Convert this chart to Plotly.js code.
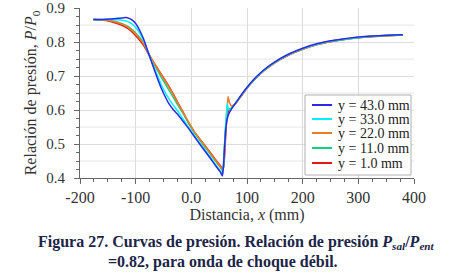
<!DOCTYPE html>
<html>
<head>
<meta charset="utf-8">
<script src="https://cdn.plot.ly/plotly-3.0.1.min.js"></script>
<style>html,body{margin:0;padding:0;background:#fff;}#chart{width:453px;height:274px;}</style>
</head>
<body>
<div id="chart"></div>
<script>
const seriesNames = ["y = 43.0 mm", "y = 33.0 mm", "y = 22.0 mm", "y = 11.0 mm", "y = 1.0 mm"];
const seriesColors = ["#2a2ae6", "#00f0ff", "#f07a1e", "#10d080", "#e01818"];

const xBlue = [-176,-160,-145,-132,-122,-115,-108,-100,-92,-85,-78,-70,-62,-55,-48,-40,-32,-24,-15,-5,5,15,25,35,45,52,55.5,57.5,60,62,64,67,72,80,90,100,115,130,150,175,200,225,250,275,300,325,350,380];
const yBlue = [0.867,0.867,0.868,0.870,0.872,0.872,0.867,0.855,0.832,0.806,0.772,0.735,0.698,0.668,0.643,0.618,0.600,0.586,0.567,0.546,0.523,0.500,0.478,0.456,0.433,0.418,0.406,0.430,0.500,0.545,0.570,0.588,0.603,0.622,0.645,0.667,0.695,0.718,0.742,0.765,0.782,0.795,0.804,0.810,0.815,0.818,0.820,0.822];

const xCyan = [-176,-160,-145,-132,-122,-115,-108,-100,-92,-85,-78,-70,-62,-55,-48,-40,-32,-24,-15,-5,5,15,25,35,45,52,56,58,60.5,62.5,64.5,66.5,69,72,80,90,100,115,130,150,175,200,225,250,275,300,325,350,380];
const yCyan = [0.867,0.867,0.867,0.866,0.864,0.861,0.855,0.843,0.824,0.802,0.772,0.738,0.705,0.678,0.655,0.632,0.613,0.596,0.574,0.550,0.526,0.503,0.481,0.459,0.436,0.421,0.409,0.440,0.520,0.575,0.620,0.603,0.600,0.604,0.622,0.644,0.666,0.694,0.717,0.741,0.764,0.781,0.794,0.803,0.809,0.814,0.817,0.820,0.822];

const xOrange = [-176,-160,-145,-132,-122,-115,-108,-100,-92,-85,-78,-70,-62,-55,-48,-40,-32,-24,-15,-5,5,15,25,35,45,52,57,59.5,62,64,66,68.5,72,76,80,90,100,115,130,150,175,200,225,250,275,300,325,350,380];
const yOrange = [0.867,0.866,0.863,0.857,0.851,0.845,0.836,0.824,0.809,0.793,0.771,0.747,0.725,0.706,0.688,0.667,0.644,0.620,0.594,0.565,0.538,0.515,0.493,0.471,0.449,0.434,0.423,0.470,0.550,0.600,0.640,0.622,0.612,0.615,0.621,0.643,0.665,0.693,0.716,0.740,0.763,0.780,0.793,0.802,0.809,0.814,0.817,0.819,0.821];

const xGreen = [-176,-160,-145,-132,-122,-115,-108,-100,-92,-85,-78,-70,-62,-55,-48,-40,-32,-24,-15,-5,5,15,25,35,45,52,56.5,58.5,61,63,65,68,72,80,90,100,115,130,150,175,200,225,250,275,300,325,350,380];
const yGreen = [0.867,0.866,0.864,0.859,0.853,0.847,0.839,0.827,0.812,0.795,0.772,0.745,0.720,0.700,0.680,0.658,0.636,0.614,0.590,0.562,0.535,0.512,0.490,0.468,0.446,0.432,0.420,0.460,0.540,0.580,0.600,0.603,0.606,0.621,0.643,0.665,0.693,0.716,0.740,0.763,0.780,0.793,0.802,0.808,0.813,0.817,0.819,0.821];

const xRed = [-176,-160,-145,-132,-122,-115,-108,-100,-92,-85,-78,-70,-62,-55,-48,-40,-32,-24,-15,-5,5,15,25,35,45,52,57.5,60,62.5,64.5,67,72,80,90,100,115,130,150,175,200,225,250,275,300,325,350,380];
const yRed = [0.867,0.865,0.861,0.854,0.847,0.841,0.832,0.819,0.804,0.788,0.768,0.746,0.726,0.708,0.690,0.669,0.646,0.621,0.595,0.562,0.536,0.515,0.494,0.473,0.451,0.437,0.426,0.470,0.550,0.585,0.597,0.606,0.620,0.642,0.664,0.692,0.715,0.739,0.762,0.779,0.792,0.801,0.808,0.813,0.816,0.819,0.821];

const xTickVals = [-200,-100,0,100,200,300,400];
const xTickText = ["-200","-100","0.0","100","200","300","400"];
const yTickVals = [0.4,0.5,0.6,0.7,0.8,0.9];
const yTickText = ["0.4","0.5","0.6","0.7","0.8","0.9"];

const allX = [xBlue, xCyan, xOrange, xGreen, xRed];
const allY = [yBlue, yCyan, yOrange, yGreen, yRed];

const traces = [];
for (let i = allX.length - 1; i >= 0; i--) {
  traces.push({
    x: allX[i], y: allY[i], type: 'scatter', mode: 'lines', name: seriesNames[i],
    line: {color: seriesColors[i], width: 1.5, shape: 'spline', smoothing: 0.4},
    showlegend: false, hoverinfo: 'skip'
  });
}

const FONT = "Times New Roman, Liberation Serif, serif";
const L = 80, R = 414, T = 8, B = 178, W = 453, H = 274;
const px2x = p => (p - L) / (R - L);
const py2y = p => (B - p) / (B - T);

const shapes = [];
const yMinorGrid = [0.45, 0.55, 0.65, 0.75, 0.85];
for (const v of yMinorGrid) {
  shapes.push({type: 'line', xref: 'paper', yref: 'y', x0: 0, x1: 1, y0: v, y1: v, line: {color: '#e6e6e6', width: 1}, layer: 'below'});
}
shapes.push({type: 'rect', xref: 'paper', yref: 'paper', x0: px2x(305), x1: px2x(411), y0: py2y(175), y1: py2y(95),
   line: {color: '#b0b0b0', width: 1}, fillcolor: '#ffffff', layer: 'above'});
const annotations = [];
const entryY = [105, 119, 133, 148, 163];
for (let i = 0; i < seriesNames.length; i++) {
  shapes.push({type: 'line', xref: 'paper', yref: 'paper', x0: px2x(312), x1: px2x(332), y0: py2y(entryY[i]), y1: py2y(entryY[i]),
    line: {color: seriesColors[i], width: 2}, layer: 'above'});
  annotations.push({xref: 'paper', yref: 'paper', x: px2x(336), y: py2y(entryY[i]), xanchor: 'left', yanchor: 'middle',
    text: seriesNames[i], showarrow: false, font: {family: FONT, size: 14, color: '#222'}});
}
annotations.push({xref: 'paper', yref: 'paper', x: px2x(236), y: py2y(242), xanchor: 'center', yanchor: 'middle',
  text: "Figura 27. Curvas de presión. Relación de presión <i>P</i><sub><i>sal</i></sub>/<i>P</i><sub><i>ent</i></sub>",
  showarrow: false, font: {family: FONT, size: 16, color: '#1c2448', weight: 'bold'}});
annotations.push({xref: 'paper', yref: 'paper', x: px2x(223), y: py2y(262), xanchor: 'center', yanchor: 'middle',
  text: "=0.82, para onda de choque débil.",
  showarrow: false, font: {family: FONT, size: 16, color: '#1c2448', weight: 'bold'}});

const layout = {
  width: W, height: H,
  margin: {l: L, r: W - R, t: T, b: H - B, pad: 0},
  paper_bgcolor: '#ffffff', plot_bgcolor: '#ffffff',
  font: {family: FONT, size: 16, color: '#333'},
  xaxis: {
    range: [-200, 400], tickmode: 'array', tickvals: xTickVals, ticktext: xTickText,
    showgrid: true, gridcolor: '#dcdcdc', gridwidth: 1, zeroline: false,
    showline: true, linecolor: '#666', linewidth: 1,
    ticks: 'outside', ticklen: 5, tickcolor: '#666', tickfont: {family: FONT, size: 16, color: '#333'},
    ticklabeloverflow: 'allow',
    minor: {dtick: 25, ticks: 'outside', ticklen: 3, tickcolor: '#666', showgrid: false},
    title: {text: "Distancia, <i>x</i> (mm)", font: {family: FONT, size: 16, color: '#333'}, standoff: 2},
    automargin: false
  },
  yaxis: {
    range: [0.4, 0.9005], tickmode: 'array', tickvals: yTickVals, ticktext: yTickText,
    showgrid: true, gridcolor: '#dcdcdc', gridwidth: 1, zeroline: false,
    showline: true, linecolor: '#666', linewidth: 1,
    ticks: 'outside', ticklen: 5, tickcolor: '#666', tickfont: {family: FONT, size: 15, color: '#333'},
    ticklabelstandoff: 6, ticklabeloverflow: 'allow',
    minor: {tickvals: [0.425,0.45,0.475,0.525,0.55,0.575,0.625,0.65,0.675,0.725,0.75,0.775,0.825,0.85,0.875], ticks: 'outside', ticklen: 3, tickcolor: '#666', showgrid: false},
    title: {text: "Relación de presión, <i>P</i>/<i>P</i><sub>0</sub>", font: {family: FONT, size: 16, color: '#333'}, standoff: 5},
    automargin: false
  },
  shapes: shapes,
  annotations: annotations,
  showlegend: false
};

Plotly.newPlot('chart', traces, layout, {staticPlot: true, displayModeBar: false});
</script>
</body>
</html>
